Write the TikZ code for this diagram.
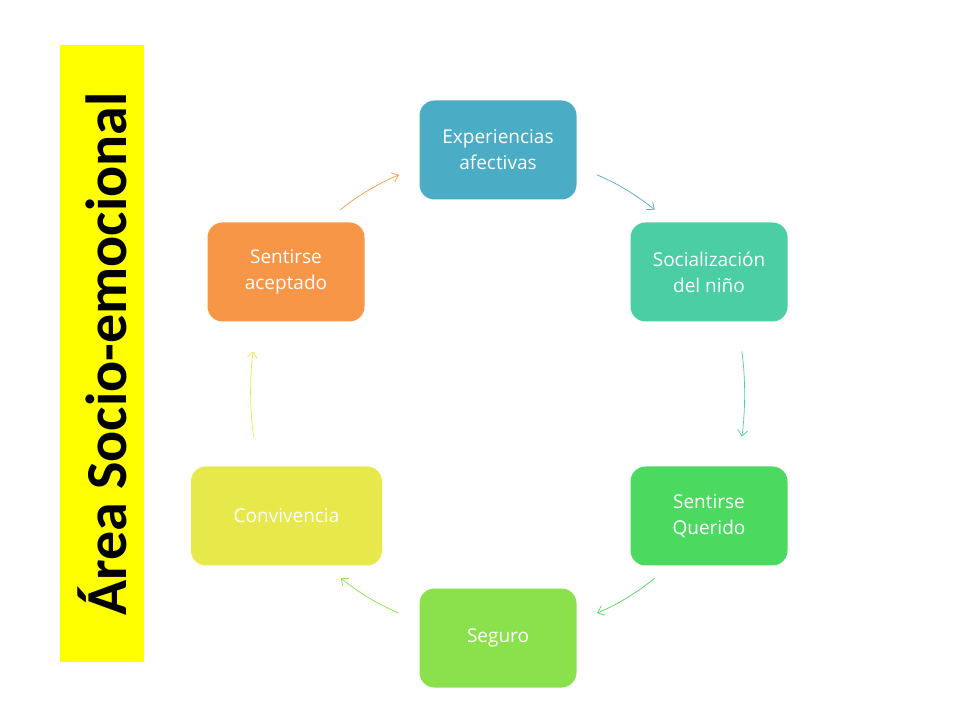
\documentclass[tikz,border=0pt]{standalone}
\usepackage{fontspec}
\setmainfont{Open Sans}
\newfontfamily\titlefont{Carlito}
\usetikzlibrary{arrows.meta}

\definecolor{cExp}{RGB}{75,172,198}
\definecolor{cSoc}{RGB}{75,206,164}
\definecolor{cQue}{RGB}{75,217,95}
\definecolor{cSeg}{RGB}{139,225,75}
\definecolor{cCon}{RGB}{231,233,75}
\definecolor{cAce}{RGB}{247,150,70}
\definecolor{cBar}{RGB}{255,255,0}

\begin{document}
\begin{tikzpicture}[x=1pt, y=1pt,
  block/.style={rectangle, rounded corners=15pt, minimum width=157pt, minimum height=99pt,
    text=white, align=center, font=\fontsize{19}{26}\selectfont},
  cyc/.style={-{Straight Barb[length=6pt,width=10pt]}, line width=0.7pt}]
  \useasboundingbox (0,0) rectangle (960,720);

  % side title
  \fill[cBar] (60,58) rectangle (144,675);
  \node[rotate=90, font=\titlefont\bfseries\fontsize{58}{66}\selectfont] (title) at (102,366) {Área Socio-emocional};

  % cycle of blocks
  \node[block, fill=cExp] (exp) at (498,570) {Experiencias\\afectivas};
  \node[block, fill=cSoc] (soc) at (709,448) {Socialización\\del niño};
  \node[block, fill=cQue] (que) at (709,204) {Sentirse\\Querido};
  \node[block, fill=cSeg] (seg) at (498,82) {Seguro};
  \node[block, fill=cCon, minimum width=191pt] (con) at (286.5,204) {Convivencia};
  \node[block, fill=cAce] (ace) at (286,448) {Sentirse\\aceptado};

  \draw[cyc, cExp, shorten <=22pt, shorten >=20pt] (exp.-12) to[out=-22, in=141] (soc.128);
  \draw[cyc, cSoc, shorten <=30pt, shorten >=30pt] (soc.-60) to[out=-82, in=82] (que.60);
  \draw[cyc, cQue, shorten <=20pt, shorten >=22pt] (que.-128) to[out=-141, in=22] (seg.12);
  \draw[cyc, cSeg, shorten <=22pt, shorten >=20pt] (seg.168) to[out=158, in=-39] (con.-52);
  \draw[cyc, cCon, shorten <=30pt, shorten >=30pt] (con.120) to[out=98, in=-98] (ace.-120);
  \draw[cyc, cAce, shorten <=20pt, shorten >=22pt] (ace.52) to[out=39, in=-158] (exp.-168);

\end{tikzpicture}
\end{document}
